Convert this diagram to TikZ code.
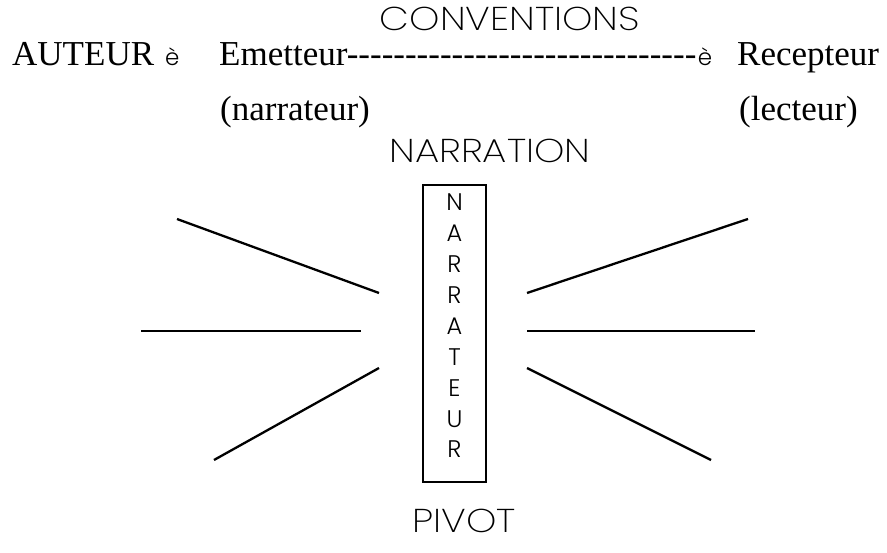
\documentclass[tikz,border=0pt]{standalone}
\usepackage{fontspec}
\setmainfont{Liberation Serif}
\newfontfamily\gothic{Poppins}[UprightFont={* Light}]
\newfontfamily\gothicwide{Poppins}[UprightFont={* ExtraLight}, FakeStretch=1.17]
\newcommand\hyrun{\foreach \i in {1,...,30}{-\kern0pt}}
\begin{document}
\begin{tikzpicture}[x=1pt,y=-1pt,
  serif/.style={font=\fontsize{35}{40}\selectfont, inner sep=0pt, anchor=base west},
  title/.style={font=\gothicwide\fontsize{33}{40}\selectfont, inner sep=0pt, anchor=base},
  glyph/.style={font=\gothic\fontsize{23}{28}\selectfont, inner sep=0pt, anchor=base west},
  ray/.style={line width=2.3pt},
  pillar/.style={draw, line width=2.6pt, minimum width=63pt, minimum height=297pt, inner sep=0pt}]
\useasboundingbox (0,0) rectangle (887,553);
% titles
\node[title] (conv) at (510,31) {CONVENTIONS};
\node[title] (narration) at (490,163) {NARRATION};
\node[title] (pivot) at (464,532) {PIVOT};
% main line
\node[serif] (aut) at (12,66) {AUTEUR};
\node[glyph] (g1) at (165,66) {è};
\node[serif] (em) at (219,66) {Emetteur\hyrun};
\node[glyph] (g2) at ([xshift=1pt]em.base east) {è};
\node[serif] (rec) at (737,66) {Recepteur};
\node[serif] (narr) at (220,121) {(narrateur)};
\node[serif] (lect) at (739,121) {(lecteur)};
% pillar
\node[pillar] (box) at (454.5,333.5) {};
\node[font=\gothic\fontsize{24}{30.9}\selectfont, align=center, inner sep=0pt] (letters) at (454.5,326) {N\\A\\R\\R\\A\\T\\E\\U\\R};
% rays
\coordinate (l1a) at (177,219); \coordinate (l1b) at (379,293);
\coordinate (l2a) at (141,331); \coordinate (l2b) at (361,331);
\coordinate (l3a) at (379,368); \coordinate (l3b) at (214,460);
\coordinate (r1a) at (527,293); \coordinate (r1b) at (748,219);
\coordinate (r2a) at (527,331); \coordinate (r2b) at (755,331);
\coordinate (r3a) at (527,368); \coordinate (r3b) at (711,460);
\draw[ray] (l1a) -- (l1b);
\draw[ray] (l2a) -- (l2b);
\draw[ray] (l3a) -- (l3b);
\draw[ray] (r1a) -- (r1b);
\draw[ray] (r2a) -- (r2b);
\draw[ray] (r3a) -- (r3b);
\end{tikzpicture}
\end{document}
